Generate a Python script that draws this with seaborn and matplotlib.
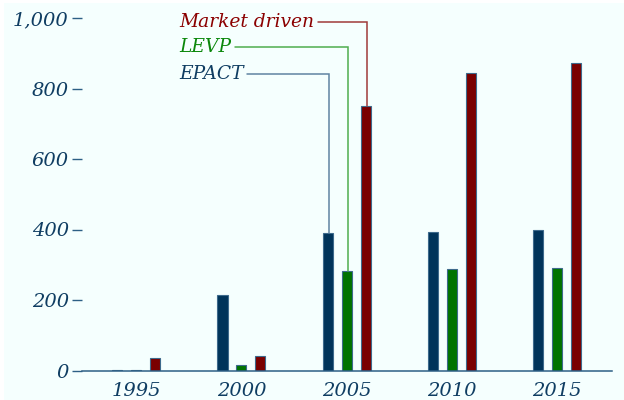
import matplotlib
matplotlib.use("Agg")
import matplotlib.pyplot as plt
import matplotlib.patches as mpatches
import matplotlib.ticker as mticker
import seaborn as sns
import pandas as pd

years = ["1995", "2000", "2005", "2010", "2015"]
series = ["EPACT", "LEVP", "Market driven"]
epact = [1, 215, 389, 393, 398]
levp = [1, 16, 283, 287, 290]
market = [35, 40, 751, 845, 871]
yticks = [0, 200, 400, 600, 800, 1000]

colors = {"EPACT": "#00345a", "LEVP": "#007300", "Market driven": "#7a0000"}
text_colors = {"EPACT": "#0f3d62", "LEVP": "#0a870a", "Market driven": "#8b0000"}
line_colors = {"EPACT": "#5f84a2", "LEVP": "#4fae4f", "Market driven": "#a03a3a"}

df = pd.DataFrame({
    "year": years * 3,
    "series": ["EPACT"] * 5 + ["LEVP"] * 5 + ["Market driven"] * 5,
    "value": epact + levp + market,
})

sns.set_theme(style="white")
plt.rcParams["font.family"] = ["DejaVu Serif"]
plt.rcParams["font.style"] = "italic"

bg = "#f5fffe"
fig = plt.figure(figsize=(6.24, 4.0), dpi=100, facecolor="white")
fig.patches.append(mpatches.Rectangle((4 / 624, 0), 1, 397 / 400,
                                      transform=fig.transFigure,
                                      facecolor=bg, edgecolor="none", zorder=-10))
ax = fig.add_axes([82 / 624, (400 - 370.5) / 400, 530 / 624, 352.5 / 400])
ax.set_facecolor(bg)
ax.patch.set_alpha(0)

sns.barplot(data=df, x="year", y="value", hue="series", order=years,
            hue_order=series, palette=colors, saturation=1, width=0.54, gap=0.47,
            edgecolor="#3d6a8c", linewidth=0.8, legend=False, ax=ax)

ax.set_xlim(-0.515, 4.521)
ax.set_ylim(0, 1000)
ax.set_yticks(yticks)
ax.yaxis.set_major_formatter(mticker.FuncFormatter(lambda v, p: f"{int(v):,}"))
ax.set_xlabel("")
ax.set_ylabel("")
for s in ["top", "right", "left"]:
    ax.spines[s].set_visible(False)
ax.spines["bottom"].set_color("#2d5f85")
ax.spines["bottom"].set_linewidth(1.1)
ax.tick_params(axis="y", length=7.5, width=1.0, color="#2d5f85", pad=2,
               labelsize=14, labelcolor="#0f3d62", left=True, direction="out")
ax.tick_params(axis="x", length=0, pad=8.5, labelsize=14, labelcolor="#0f3d62")
for lab in ax.get_xticklabels() + ax.get_yticklabels():
    lab.set_fontstyle("italic")
ax.grid(False)

# annotation callouts to 2005 bars
heights = {"Market driven": 988.6, "LEVP": 917.7, "EPACT": 842.0}
text_x = 0.405
fig.canvas.draw()
renderer = fig.canvas.get_renderer()
inv = ax.transData.inverted()
for i, s in enumerate(series):
    cont = ax.containers[i]
    bar = cont.patches[2]
    bx = bar.get_x() + bar.get_width() / 2 + 0.015
    btop = bar.get_height()
    y = heights[s]
    t = ax.text(text_x, y, s, color=text_colors[s], fontsize=13.4,
                fontstyle="italic", va="center", ha="left")
    bb = t.get_window_extent(renderer)
    xr = inv.transform((bb.x1 + 4, bb.y0))[0]
    ax.plot([xr, bx, bx], [y, y, btop], color=line_colors[s], lw=1.1,
            solid_joinstyle="miter", zorder=1)

fig.savefig("out.png", dpi=100, facecolor="white")
